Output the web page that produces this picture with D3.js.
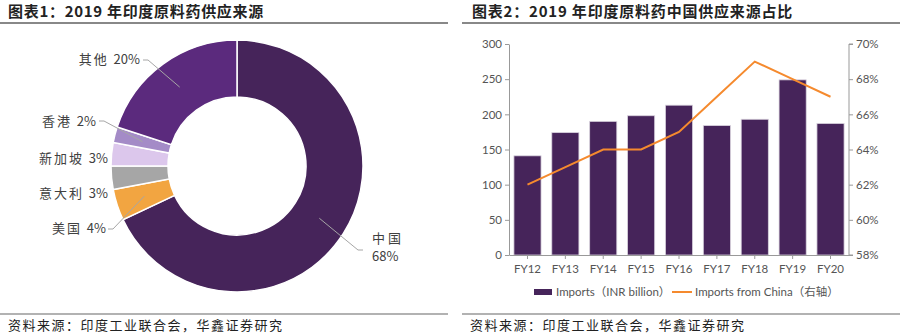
<!DOCTYPE html>
<html><head><meta charset="utf-8">
<script src="https://cdn.jsdelivr.net/npm/d3@7/dist/d3.min.js"></script>
<style>
body{margin:0;background:#fff;}
svg{display:block;font-family:"Noto Sans CJK SC","Noto Sans",sans-serif;}
</style></head>
<body><svg id="c" width="900" height="336"></svg>
<script>
// Donut data
const pieLabels = ["中国","美国","意大利","新加坡","香港","其他"];
const pieValues = [68,4,3,3,2,20];
const pieColors = ["#46245a","#f2a541","#a6a6a6","#dcc7ec","#a48bc7","#5b2a7d"];

// Bar/line data
const years = ["FY12","FY13","FY14","FY15","FY16","FY17","FY18","FY19","FY20"];
const imports = [141,174,190,198,213,184,193,249,187];
const chinaShare = [62,63,64,64,65,67,69,68,67];
const leftTicks = [0,50,100,150,200,250,300];
const rightTicks = [58,60,62,64,66,68,70];

const svg = d3.select("#c");
const txt = "#404040";

// Titles
svg.append("text").attr("x",8).attr("y",17).attr("font-size",15).attr("font-weight","bold").attr("fill","#222")
  .attr("letter-spacing",0.7).text("图表1：2019 年印度原料药供应来源");
svg.append("text").attr("x",472).attr("y",17).attr("font-size",15).attr("font-weight","bold").attr("fill","#222")
  .attr("letter-spacing",0.8).text("图表2：2019 年印度原料药中国供应来源占比");
svg.append("line").attr("x1",0).attr("x2",448).attr("y1",23).attr("y2",23).attr("stroke","#888").attr("stroke-width",2);
svg.append("line").attr("x1",462).attr("x2",900).attr("y1",23).attr("y2",23).attr("stroke","#888").attr("stroke-width",2);
svg.append("line").attr("x1",0).attr("x2",448).attr("y1",314).attr("y2",314).attr("stroke","#999").attr("stroke-width",1.5);
svg.append("line").attr("x1",462).attr("x2",900).attr("y1",314).attr("y2",314).attr("stroke","#999").attr("stroke-width",1.5);
svg.append("text").attr("x",8).attr("y",330).attr("font-size",13).attr("fill","#222").attr("letter-spacing",1.5).text("资料来源：印度工业联合会，华鑫证券研究");
svg.append("text").attr("x",470).attr("y",330).attr("font-size",13).attr("fill","#222").attr("letter-spacing",1.5).text("资料来源：印度工业联合会，华鑫证券研究");

// Donut
const cx = 237, cy = 166, R = 126, r = 69;
const pie = d3.pie().sort(null).value(d=>d);
const arcs = pie(pieValues);
const arc = d3.arc().innerRadius(r).outerRadius(R);
const g = svg.append("g").attr("transform",`translate(${cx},${cy})`);
g.selectAll("path").data(arcs).join("path")
  .attr("d",arc).attr("fill",(d,i)=>pieColors[i]).attr("stroke","#fff").attr("stroke-width",1.5);

// Labels with leader lines (label anchor positions)
const labelPos = [
  {x:372,y:247,anchor:"start",two:true, lx:363,ly:250},
  {x:106,y:233,anchor:"end", lx:108,ly:229},
  {x:108,y:198,anchor:"end", lx:null},
  {x:108,y:163,anchor:"end", lx:null},
  {x:96,y:126,anchor:"end", lx:99,ly:121},
  {x:140,y:64,anchor:"end", lx:143,ly:60}
];
arcs.forEach((a,i)=>{
  const p = labelPos[i];
  const lbl = pieLabels[i], pct = pieValues[i]+"%";
  if(p.lx!==null){
    const mid = d3.arc().innerRadius((r+R)/2).outerRadius((r+R)/2).centroid(a);
    const mx = cx+mid[0], my = cy+mid[1];
    let elbowX = p.anchor==="end" ? p.lx+5 : p.lx-5;
    svg.append("polyline").attr("points",`${mx},${my} ${elbowX},${p.ly} ${p.lx},${p.ly}`)
      .attr("fill","none").attr("stroke","#a6a6a6").attr("stroke-width",1);
  }
  if(p.two){
    svg.append("text").attr("x",p.x).attr("y",p.y-4).attr("font-size",13).attr("fill",txt).attr("letter-spacing",3).text(lbl);
    svg.append("text").attr("x",p.x).attr("y",p.y+14).attr("font-size",13).attr("fill",txt).text(pct);
  } else {
    const t = svg.append("text").attr("x",p.x).attr("y",p.y).attr("text-anchor",p.anchor).attr("font-size",13).attr("fill",txt);
    t.append("tspan").attr("letter-spacing",2).text(lbl+" ");
    t.append("tspan").text(pct);
  }
});

// Bar chart
const x0 = 509, x1 = 849, yTop = 44, yBot = 255;
const xs = d3.scaleBand().domain(years).range([x0,x1]).paddingInner(0.284).paddingOuter(0.13);
const yl = d3.scaleLinear().domain([0,300]).range([yBot,yTop]);
const yr = d3.scaleLinear().domain([58,70]).range([yBot,yTop]);

svg.append("g").selectAll("rect").data(imports).join("rect")
  .attr("x",(d,i)=>xs(years[i])).attr("width",xs.bandwidth())
  .attr("y",d=>yl(d)).attr("height",d=>yBot-yl(d))
  .attr("fill","#46245a").attr("stroke","#d9d3de").attr("stroke-width",0.8);

const axL = svg.append("g").attr("transform",`translate(${x0},0)`)
  .call(d3.axisLeft(yl).tickValues(leftTicks).tickSize(4).tickSizeOuter(0).tickPadding(3));
const axR = svg.append("g").attr("transform",`translate(${x1},0)`)
  .call(d3.axisRight(yr).tickValues(rightTicks).tickFormat(d=>d+"%").tickSize(4).tickSizeOuter(0).tickPadding(3));
const axB = svg.append("g").attr("transform",`translate(0,${yBot})`)
  .call(d3.axisBottom(xs).tickSize(4).tickSizeOuter(0).tickPadding(6));
[axL,axR,axB].forEach(a=>{
  a.selectAll("path,line").attr("stroke","#999");
  a.selectAll("text").attr("fill","#555").attr("font-size",11.5).attr("font-family","Lato, 'Noto Sans', sans-serif");
});
axR.select(".domain").attr("d",`M4,${yTop}H0V${yBot}H4`);

const line = d3.line().x((d,i)=>xs(years[i])+xs.bandwidth()/2).y(d=>yr(d));
svg.append("path").datum(chinaShare).attr("d",line).attr("fill","none").attr("stroke","#f58a2e").attr("stroke-width",2);

// Legend
svg.append("rect").attr("x",534).attr("y",289).attr("width",18).attr("height",6).attr("fill","#46245a");
svg.append("text").attr("x",556).attr("y",296).attr("font-size",11.5).attr("fill","#555")
  .attr("font-family","Lato,'Noto Sans CJK SC',sans-serif").text("Imports（INR billion）");
svg.append("line").attr("x1",672).attr("x2",692).attr("y1",292).attr("y2",292).attr("stroke","#f58a2e").attr("stroke-width",2);
svg.append("text").attr("x",695).attr("y",296).attr("font-size",11.5).attr("fill","#555")
  .attr("font-family","Lato,'Noto Sans CJK SC',sans-serif").text("Imports from China（右轴）");
</script></body></html>
